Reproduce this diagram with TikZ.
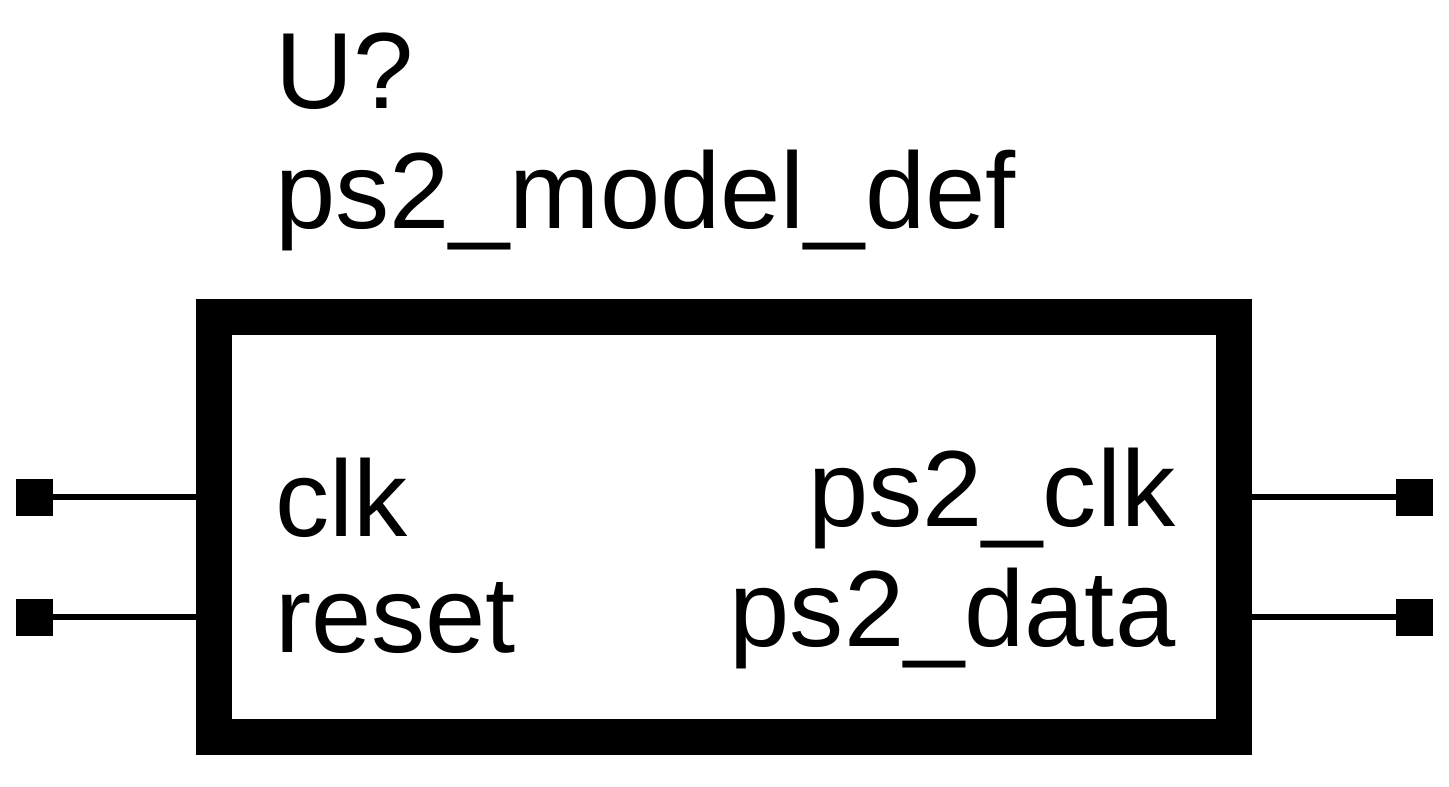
\documentclass[tikz,border=0pt]{standalone}
\usepackage{fontspec}
\setmainfont{Liberation Sans}
\tikzset{
  lbl/.style={inner sep=0pt,font=\fontsize{108.3}{108.3}\selectfont},
  lblw/.style={lbl,anchor=base west},
  lble/.style={lbl,anchor=base east},
  body/.style={draw=black,line width=36pt,fill=white,minimum width=1020pt,minimum height=420pt,inner sep=0pt,outer sep=0pt,anchor=north west},
  pinbox/.style={fill=black,draw=none,minimum size=37pt,inner sep=0pt,outer sep=0pt},
  wire/.style={line width=6pt,draw=black}
}
\begin{document}
\begin{tikzpicture}[x=1pt,y=-1pt]
\useasboundingbox (0,0) rectangle (1449,787);
\node[body] (box) at (214,316.6) {};
\node[pinbox] (p1) at (34.5,497.5) {};
\node[pinbox] (p2) at (34.5,617.5) {};
\node[pinbox] (p3) at (1414.5,497.5) {};
\node[pinbox] (p4) at (1414.5,617.5) {};
\coordinate (a1) at (196,497);
\coordinate (a2) at (196,617);
\coordinate (a3) at (1252,497);
\coordinate (a4) at (1252,617);
\draw[wire] (p1.center |- a1) -- (a1);
\draw[wire] (p2.center |- a2) -- (a2);
\draw[wire] (a3) -- (p3.center |- a3);
\draw[wire] (a4) -- (p4.center |- a4);
\node[lblw] (t1) at (275,108) {U?};
\node[lblw] (t2) at (275,228) {ps2\_model\_def};
\node[lblw] (t3) at (275,536) {clk};
\node[lblw] (t4) at (275,652) {reset};
\node[lble] (t5) at (1175.5,526) {ps2\_clk};
\node[lble] (t6) at (1175.5,646) {ps2\_data};
\end{tikzpicture}
\end{document}
